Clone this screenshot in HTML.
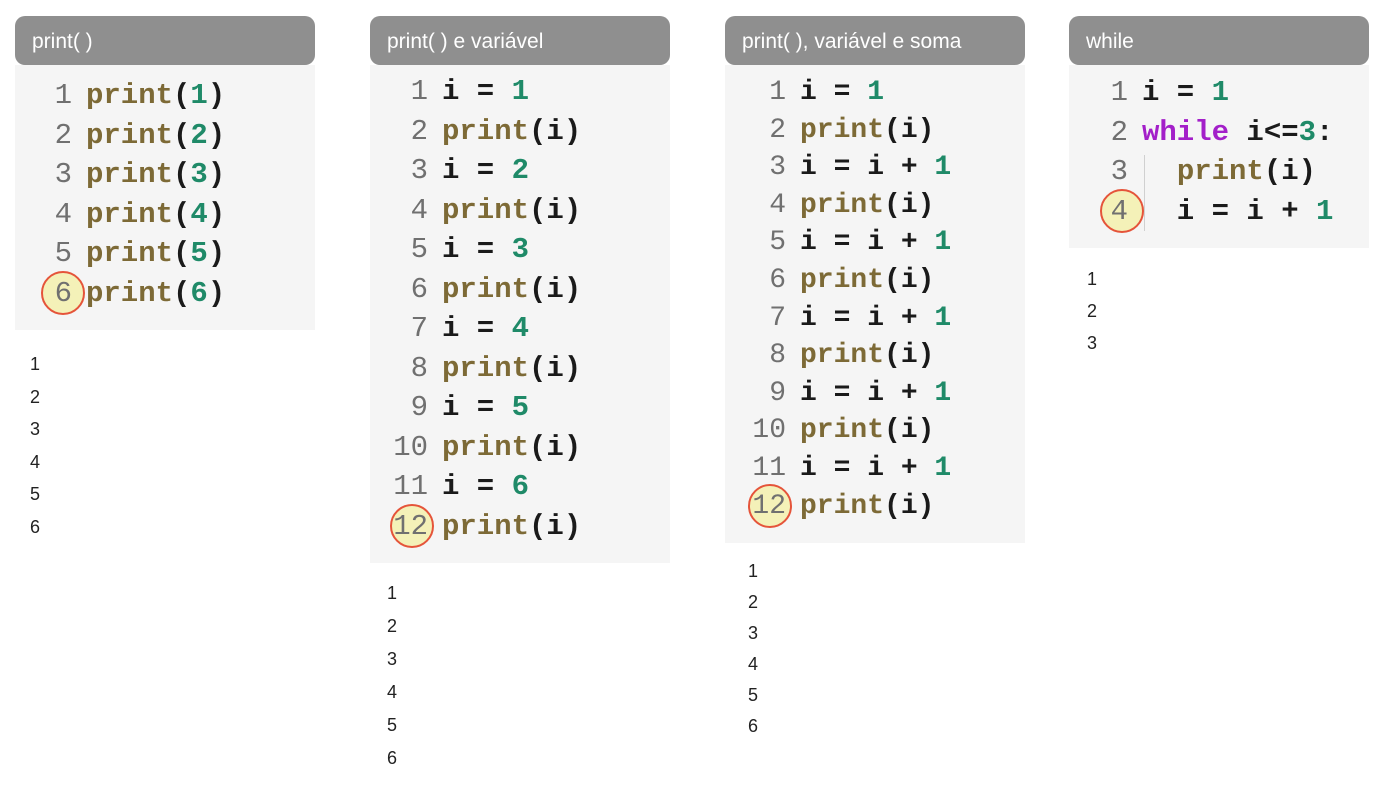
<!DOCTYPE html>
<html><head><meta charset="utf-8"><style>
body{margin:0;width:1397px;height:785px;background:#fff;position:relative;overflow:hidden;font-family:"Liberation Sans",sans-serif}
.h{position:absolute;top:16px;height:49px;width:300px;background:#8f8f8f;border-radius:10px;color:#fff;font-size:21px;line-height:52px;padding-left:17px;box-sizing:border-box}
.p{position:absolute;top:65px;width:300px;background:#f5f5f5}
.code{position:absolute;font-family:"Liberation Mono",monospace;font-weight:bold;font-size:29px;line-height:39.5px;white-space:pre;color:#1a1a1a;z-index:2}
.n{display:inline-block;width:40px;text-align:right;margin-right:14px;font-weight:normal;color:#707070}
.f{color:#7d6a36}.g{color:#1f8a68}.w{color:#a31fc9}
.cir{position:absolute;width:40px;height:40px;border:2.5px solid #e5543a;border-radius:50%;background:#f4f1b8;z-index:1}
.o{position:absolute;font-size:18px;color:#222;white-space:pre}
</style></head><body>

<div class="h" style="left:15px">print( )</div>
<div class="p" style="left:15px;height:265px"></div>
<div class="cir" style="left:41px;top:271px"></div>
<div class="code" style="left:32px;top:76px"><div><span class="n">1</span><span class="f">print</span>(<span class="g">1</span>)</div><div><span class="n">2</span><span class="f">print</span>(<span class="g">2</span>)</div><div><span class="n">3</span><span class="f">print</span>(<span class="g">3</span>)</div><div><span class="n">4</span><span class="f">print</span>(<span class="g">4</span>)</div><div><span class="n">5</span><span class="f">print</span>(<span class="g">5</span>)</div><div><span class="n">6</span><span class="f">print</span>(<span class="g">6</span>)</div></div>
<div class="o" style="left:30px;top:348px;line-height:32.5px">1
2
3
4
5
6</div>

<div class="h" style="left:370px">print( ) e variável</div>
<div class="p" style="left:370px;height:498px"></div>
<div class="cir" style="left:390px;top:504px"></div>
<div class="code" style="left:388px;top:72px"><div><span class="n">1</span>i = <span class="g">1</span></div><div><span class="n">2</span><span class="f">print</span>(i)</div><div><span class="n">3</span>i = <span class="g">2</span></div><div><span class="n">4</span><span class="f">print</span>(i)</div><div><span class="n">5</span>i = <span class="g">3</span></div><div><span class="n">6</span><span class="f">print</span>(i)</div><div><span class="n">7</span>i = <span class="g">4</span></div><div><span class="n">8</span><span class="f">print</span>(i)</div><div><span class="n">9</span>i = <span class="g">5</span></div><div><span class="n">10</span><span class="f">print</span>(i)</div><div><span class="n">11</span>i = <span class="g">6</span></div><div><span class="n">12</span><span class="f">print</span>(i)</div></div>
<div class="o" style="left:387px;top:577px;line-height:33px">1
2
3
4
5
6</div>

<div class="h" style="left:725px">print( ), variável e soma</div>
<div class="p" style="left:725px;height:478px"></div>
<div class="cir" style="left:748px;top:484px"></div>
<div class="code" style="left:746px;top:74px;font-size:28px;line-height:37.6px"><div><span class="n">1</span>i = <span class="g">1</span></div><div><span class="n">2</span><span class="f">print</span>(i)</div><div><span class="n">3</span>i = i + <span class="g">1</span></div><div><span class="n">4</span><span class="f">print</span>(i)</div><div><span class="n">5</span>i = i + <span class="g">1</span></div><div><span class="n">6</span><span class="f">print</span>(i)</div><div><span class="n">7</span>i = i + <span class="g">1</span></div><div><span class="n">8</span><span class="f">print</span>(i)</div><div><span class="n">9</span>i = i + <span class="g">1</span></div><div><span class="n">10</span><span class="f">print</span>(i)</div><div><span class="n">11</span>i = i + <span class="g">1</span></div><div><span class="n">12</span><span class="f">print</span>(i)</div></div>
<div class="o" style="left:748px;top:556px;line-height:31px">1
2
3
4
5
6</div>

<div class="h" style="left:1069px">while</div>
<div class="p" style="left:1069px;height:183px"></div>
<div style="position:absolute;left:1144px;top:155px;width:1px;height:76px;background:#d0d0d0"></div>
<div class="cir" style="left:1100px;top:189px"></div>
<div class="code" style="left:1088px;top:73px;line-height:39.7px"><div><span class="n">1</span>i = <span class="g">1</span></div><div><span class="n">2</span><span class="w">while</span> i&lt;=<span class="g">3</span>:</div><div><span class="n">3</span>  <span class="f">print</span>(i)</div><div><span class="n">4</span>  i = i + <span class="g">1</span></div></div>
<div class="o" style="left:1087px;top:263px;line-height:32px">1
2
3</div>

</body></html>
